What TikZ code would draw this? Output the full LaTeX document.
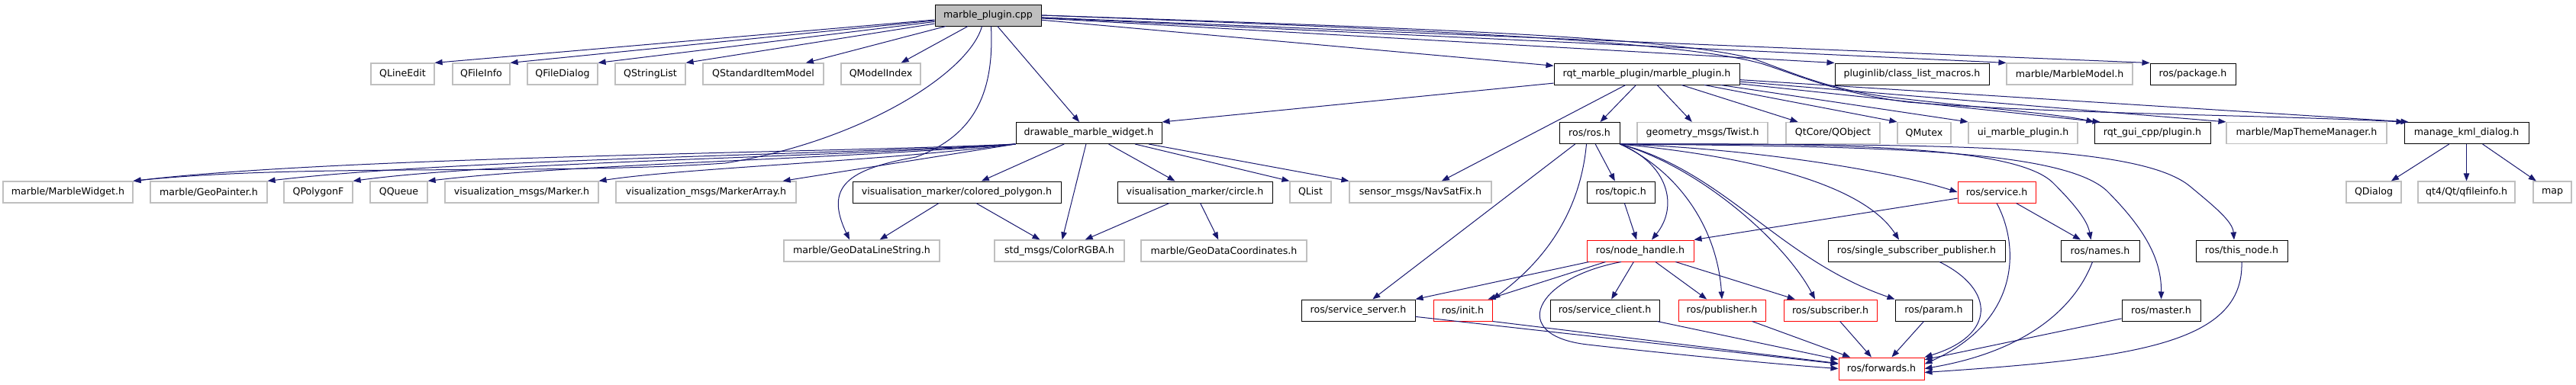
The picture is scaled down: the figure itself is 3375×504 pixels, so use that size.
\documentclass[tikz,border=0pt]{standalone}
\usepackage{fontspec}
\setmainfont{DejaVu Sans}
\usetikzlibrary{arrows.meta}
\definecolor{gbord}{HTML}{BFBFBF}
\definecolor{edgec}{HTML}{191970}
\begin{document}
\begin{tikzpicture}[x=1pt,y=-1pt,
  gn/.style={draw=gbord, line width=1.2pt, fill=white, minimum height=28pt, inner sep=0pt, font=\fontsize{12.6}{15}\selectfont},
  bn/.style={gn, draw=black, line width=1pt},
  rn/.style={gn, draw=red, line width=1pt},
  w/.style={minimum width=#1pt},
  edge/.style={draw=edgec, line width=1pt, -{Triangle[length=10pt,width=7.5pt]}}
]
\fill[white] (0,0) rectangle (3375,504);
\useasboundingbox (0,0) rectangle (3375,504);

% row 0
\node[bn, fill=gbord, w=139] (mp) at (1294.5,20) {marble\_plugin.cpp};
% row 1
\node[gn, w=83] (qlineedit) at (527.5,97) {QLineEdit};
\node[gn, w=75] (qfileinfo) at (630.5,97) {QFileInfo};
\node[gn, w=92] (qfiledialog) at (737,97) {QFileDialog};
\node[gn, w=92] (qstringlist) at (852,97) {QStringList};
\node[gn, w=158] (qsim) at (1000,97) {QStandardItemModel};
\node[gn, w=104] (qmodelindex) at (1154,97) {QModelIndex};
\node[bn, w=243] (rmp) at (2157.5,97) {rqt\_marble\_plugin/marble\_plugin.h};
\node[bn, w=202] (pluginlib) at (2505,97) {pluginlib/class\_list\_macros.h};
\node[gn, w=165] (marblemodel) at (2711.5,97) {marble/MarbleModel.h};
\node[bn, w=112] (rospackage) at (2873,97) {ros/package.h};
% row 2
\node[bn, w=191] (dmw) at (1426.5,174.5) {drawable\_marble\_widget.h};
\node[bn, w=79] (rosros) at (2082.5,174.5) {ros/ros.h};
\node[gn, w=171] (twist) at (2230.5,174.5) {geometry\_msgs/Twist.h};
\node[gn, w=123] (qobject) at (2401.5,174.5) {QtCore/QObject};
\node[gn, w=70] (qmutex) at (2521,174.5) {QMutex};
\node[gn, w=143] (uimp) at (2650.5,174.5) {ui\_marble\_plugin.h};
\node[bn, w=152] (rqtgui) at (2820,174.5) {rqt\_gui\_cpp/plugin.h};
\node[gn, w=210] (mtm) at (3022,174.5) {marble/MapThemeManager.h};
\node[bn, w=163] (kml) at (3231.5,174.5) {manage\_kml\_dialog.h};
% row 3
\node[gn, w=170] (marblewidget) at (89,252) {marble/MarbleWidget.h};
\node[gn, w=153] (geopainter) at (273.5,252) {marble/GeoPainter.h};
\node[gn, w=90] (qpolygonf) at (417,252) {QPolygonF};
\node[gn, w=75] (qqueue) at (522.5,252) {QQueue};
\node[gn, w=201] (marker) at (683.5,252) {visualization\_msgs/Marker.h};
\node[gn, w=236] (markerarray) at (925,252) {visualization\_msgs/MarkerArray.h};
\node[bn, w=273] (coloredpoly) at (1253.5,252) {visualisation\_marker/colored\_polygon.h};
\node[bn, w=203] (circle) at (1565.5,252) {visualisation\_marker/circle.h};
\node[gn, w=54] (qlist) at (1717,252) {QList};
\node[gn, w=186] (navsatfix) at (1861,252) {sensor\_msgs/NavSatFix.h};
\node[bn, w=89] (rostopic) at (2123.5,252) {ros/topic.h};
\node[rn, w=102] (rosservice) at (2616,252) {ros/service.h};
\node[gn, w=72] (qdialog) at (3110,252) {QDialog};
\node[gn, w=127] (qfileinfo4) at (3231.5,252) {qt4/Qt/qfileinfo.h};
\node[gn, w=50] (map) at (3344,252) {map};
% row 4
\node[gn, w=204] (gdls) at (1129,329) {marble/GeoDataLineString.h};
\node[gn, w=170] (colorrgba) at (1388,329) {std\_msgs/ColorRGBA.h};
\node[gn, w=217] (gdcoords) at (1603.5,329) {marble/GeoDataCoordinates.h};
\node[rn, w=140] (nodehandle) at (2149,329) {ros/node\_handle.h};
\node[bn, w=232] (singlesub) at (2511,329) {ros/single\_subscriber\_publisher.h};
\node[bn, w=103] (rosnames) at (2751.5,329) {ros/names.h};
\node[bn, w=120] (thisnode) at (2937,329) {ros/this\_node.h};
% row 5
\node[bn, w=149] (serviceserver) at (1779.5,407) {ros/service\_server.h};
\node[rn, w=77] (rosinit) at (1916.5,407) {ros/init.h};
\node[bn, w=143] (serviceclient) at (2102.5,407) {ros/service\_client.h};
\node[rn, w=114] (publisher) at (2256,407) {ros/publisher.h};
\node[rn, w=122] (subscriber) at (2398,407) {ros/subscriber.h};
\node[bn, w=101] (param) at (2533.5,407) {ros/param.h};
\node[bn, w=103] (master) at (2831.5,407) {ros/master.h};
% row 6
\node[rn, w=112, minimum height=29pt] (forwards) at (2465,483.5) {ros/forwards.h};

% edges from marble_plugin.cpp
\draw[edge] (mp) -- (qlineedit.north east);
\draw[edge] (mp) -- (qfileinfo.north east);
\draw[edge] (mp) -- (qfiledialog.north east);
\draw[edge] (mp) -- (qstringlist.north east);
\draw[edge] (mp) -- (qsim);
\draw[edge] (mp) -- (qmodelindex);
\draw[edge] (mp) -- (dmw);
\draw[edge] (mp) -- (rmp);
\draw[edge] (mp) -- (pluginlib.north west);
\draw[edge] (mp) -- (marblemodel.north west);
\draw[edge] (mp) -- (rospackage.north west);
\draw[edge] ([xshift=-8pt]mp.south) .. controls (1270,95) and (1130,185) .. (950,214) .. controls (720,230) and (400,214) .. (marblewidget.north east);
\draw[edge] ([xshift=4pt]mp.south) .. controls (1302,110) and (1285,175) .. (1200,206) .. controls (1110,222) and (1080,245) .. ([xshift=-16pt]gdls.north);
\draw[edge] (mp.east) .. controls (1900,38) and (2200,50) .. (2300,78) .. controls (2360,100) and (2400,118) .. (2480,128) .. controls (2600,142) and (2700,150) .. (rqtgui.north west);
\draw[edge] (mp.east) .. controls (1900,40) and (2210,55) .. (2310,84) .. controls (2370,104) and (2410,122) .. (2500,134) .. controls (2700,150) and (2950,150) .. (kml.north west);

% edges from rqt_marble_plugin/marble_plugin.h
\draw[edge] (rmp) -- (rosros);
\draw[edge] (rmp) -- (twist);
\draw[edge] (rmp) -- (qobject);
\draw[edge] (rmp) -- (qmutex.north west);
\draw[edge] (rmp) -- (uimp.north west);
\draw[edge] (rmp) -- ([xshift=8pt]rqtgui.north west);
\draw[edge] (rmp) -- (mtm.north west);
\draw[edge] (rmp) -- ([xshift=6pt]kml.north west);
\draw[edge] (rmp) -- (navsatfix);
\draw[edge] (rmp) -- (dmw.north east);

% edges from drawable_marble_widget.h
\draw[edge] (dmw.south west) .. controls (1100,200) and (450,205) .. (marblewidget.north east);
\draw[edge] (dmw.south west) .. controls (1100,203) and (600,208) .. (geopainter.north east);
\draw[edge] (dmw.south west) .. controls (1100,206) and (650,212) .. (qpolygonf.north east);
\draw[edge] (dmw.south west) .. controls (1100,209) and (750,215) .. (qqueue.north east);
\draw[edge] (dmw.south west) .. controls (1150,212) and (900,220) .. (marker.north east);
\draw[edge] (dmw.south west) -- ([xshift=-18pt]markerarray.north east);
\draw[edge] (dmw) -- (coloredpoly);
\draw[edge] (dmw) -- (circle);
\draw[edge] (dmw) -- (qlist.north west);
\draw[edge] (dmw) -- (navsatfix.north west);
\draw[edge] (dmw) -- (colorrgba);
\draw[edge] (coloredpoly) -- (gdls);
\draw[edge] (coloredpoly) -- (colorrgba);
\draw[edge] (circle) -- (colorrgba);
\draw[edge] (circle) -- (gdcoords);

% manage_kml_dialog.h
\draw[edge] (kml) -- (qdialog);
\draw[edge] (kml) -- (qfileinfo4);
\draw[edge] (kml) -- (map);

% ros/ros.h
\draw[edge] (rosros) -- (rostopic);
\draw[edge] (rosros) -- (serviceserver);
\draw[edge] ([xshift=-4pt]rosros.south) .. controls (2072,260) and (2040,330) .. (rosinit.north east);
\draw[edge] (rosros.south east) .. controls (2185,215) and (2200,270) .. ([xshift=15pt]nodehandle.north);
\draw[edge] (rosros.south east) .. controls (2200,225) and (2250,300) .. (publisher.north);
\draw[edge] (rosros.south east) .. controls (2230,220) and (2340,320) .. ([xshift=-20pt]subscriber.north);
\draw[edge] (rosros.south east) .. controls (2260,225) and (2330,340) .. (param.north west);
\draw[edge] (rosros.south east) .. controls (2290,205) and (2440,240) .. ([xshift=-23pt]singlesub.north);
\draw[edge] (rosros.south east) .. controls (2300,195) and (2480,225) .. (rosservice.west);
\draw[edge] (rosros.south east) .. controls (2400,188) and (2640,190) .. (2690,240) .. controls (2720,270) and (2735,290) .. ([xshift=-12pt]rosnames.north);
\draw[edge] (rosros.south east) .. controls (2450,192) and (2700,195) .. (2760,250) .. controls (2810,300) and (2832,340) .. (master.north);
\draw[edge] (rosros.south east) .. controls (2500,190) and (2800,185) .. (2870,245) .. controls (2900,270) and (2925,290) .. ([xshift=-10pt]thisnode.north);

% ros/topic.h, ros/service.h
\draw[edge] (rostopic) -- (nodehandle);
\draw[edge] (rosservice) -- (nodehandle.north east);
\draw[edge] (rosservice) -- (rosnames);
\draw[edge] (rosservice.south) .. controls (2645,320) and (2650,420) .. ([yshift=6pt]forwards.east);

% ros/node_handle.h
\draw[edge] (nodehandle) -- (serviceserver.north east);
\draw[edge] (nodehandle) -- ([xshift=-6pt]rosinit.north east);
\draw[edge] (nodehandle) -- (serviceclient);
\draw[edge] (nodehandle) -- (publisher);
\draw[edge] (nodehandle) -- (subscriber);
\draw[edge] ([xshift=-25pt]nodehandle.south) .. controls (2010,365) and (1975,440) .. (2080,452) .. controls (2185,464) and (2330,478) .. (forwards.west);

% into ros/forwards.h
\draw[edge] (serviceserver) -- (forwards);
\draw[edge] (rosinit.south east) -- (forwards);
\draw[edge] (serviceclient) -- (forwards);
\draw[edge] (publisher) -- (forwards);
\draw[edge] (subscriber) -- (forwards);
\draw[edge] (param) -- (forwards);
\draw[edge] ([xshift=30pt]singlesub.south) .. controls (2615,380) and (2615,440) .. (forwards.north east);
\draw[edge] ([xshift=-10pt]rosnames.south) .. controls (2720,400) and (2660,460) .. (forwards.east);
\draw[edge] (master) -- (forwards);
\draw[edge] (thisnode.south) .. controls (2940,450) and (2800,470) .. ([yshift=-5pt]forwards.east);
\end{tikzpicture}
\end{document}
